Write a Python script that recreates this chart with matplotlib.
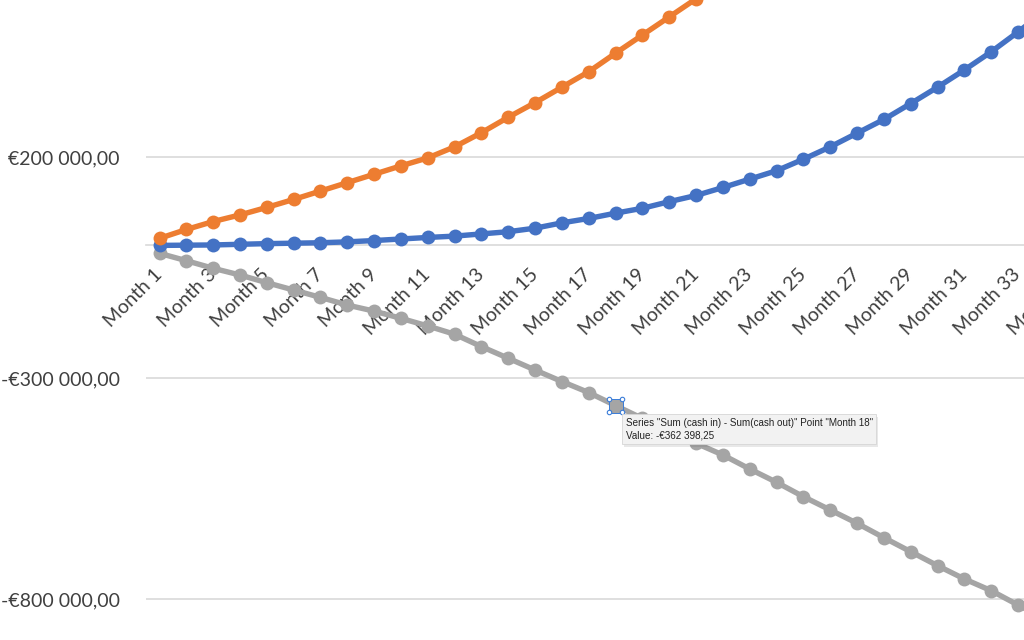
import matplotlib.pyplot as plt
import matplotlib.patheffects as pe
from matplotlib.transforms import offset_copy

# month labels on the category axis
months = [f"Month {i}" for i in range(1, 37)]

# values (EUR)
cash_out = [16000, 36000, 54000, 69000, 86000, 104000, 123000, 142000, 161000, 180000,
            198000, 223000, 255000, 290000, 323000, 358000, 393000, 435000, 476000, 517000,
            558000, 605000, 656000, 705000]
cash_in = [0, 500, 1000, 2500, 4000, 5000, 6000, 8000, 11000, 14500,
           18000, 21000, 26000, 31000, 39000, 51000, 61000, 73000, 84000, 99000,
           113000, 131000, 150000, 169000, 195000, 223000, 254000, 285000, 321000, 358000,
           397000, 438000, 483000, 530000]
net = [-17900, -34600, -51800, -67000, -84400, -101000, -117600, -135000, -148700, -165000,
       -182300, -201000, -229000, -255400, -282000, -308000, -333000, -362398.25, -391600, -420000,
       -447700, -474200, -505900, -536000, -568500, -598600, -628700, -661300, -693000, -724600,
       -754700, -781200, -813600, -845000]

y_ticks = [-800000, -300000, 200000]
selected = 18   # the point under the tooltip


def euro(v, decimals=2, sep=" "):
    s = f"{abs(v):,.{decimals}f}".replace(",", "#").replace(".", ",").replace("#", sep)
    return ("-" if v < 0 else "") + "€" + s


fig = plt.figure(figsize=(10.24, 6.4), dpi=100)
# the picture is a crop of a bigger chart, so the axes run past the figure edges
ax = fig.add_axes([0.14267, -0.28125, 0.94324, 1.72656])

ax.plot(range(1, len(net) + 1), net, color="#A5A5A5", lw=3.9,
        marker="o", ms=10, mew=0, zorder=3)
ax.plot(range(1, len(cash_in) + 1), cash_in, color="#4472C4", lw=3.9,
        marker="o", ms=10, mew=0, zorder=4)
ax.plot(range(1, len(cash_out) + 1), cash_out, color="#ED7D31", lw=3.9,
        marker="o", ms=10, mew=0, zorder=5)

# selected point: square with handles
sx, sy = selected, net[selected - 1]
ax.plot(sx, sy, marker="s", ms=9.6, mfc="#A5A5A5", mec="#3b7dd8", mew=0.7, zorder=6)
for dx in (-6.5, 6.5):
    for dy in (-6.5, 6.5):
        tr = offset_copy(ax.transData, fig=fig, x=dx, y=dy, units="dots")
        ax.plot(sx, sy, marker="o", ms=3.2, mfc="white", mec="#3b7dd8", mew=0.8,
                transform=tr, zorder=7)

tip = ax.annotate(f'Series "Sum (cash in) - Sum(cash out)" Point "{months[selected - 1]}"\n'
                  f'Value: {euro(sy)}',
                  xy=(sx, sy), xytext=(10, -12), textcoords="offset pixels",
                  ha="left", va="top", fontsize=7.1, family="Liberation Sans",
                  color="#222222", linespacing=1.35, zorder=8,
                  bbox=dict(boxstyle="square,pad=0.35", fc="#f2f2f2", ec="#d6d6d6", lw=0.6))
tip.get_bbox_patch().set_path_effects([pe.SimplePatchShadow(offset=(1, -2), alpha=0.12),
                                       pe.Normal()])

ax.set_xlim(0.5, len(months) + 0.5)
ax.set_ylim(-1300000, 1200000)

ax.set_xticks(range(1, len(months) + 1, 2))
ax.set_xticklabels(months[::2])
ax.set_yticks(y_ticks)
ax.set_yticklabels([euro(v) for v in y_ticks])

ax.spines[["left", "right", "top"]].set_visible(False)
ax.spines["bottom"].set_position(("data", 0))
ax.spines["bottom"].set_color("#d9d9d9")
ax.spines["bottom"].set_linewidth(1.2)
ax.grid(axis="y", color="#d9d9d9", lw=1.2)
ax.set_axisbelow(True)

ax.tick_params(axis="both", length=0, labelsize=14, labelcolor="#404040")
ax.tick_params(axis="y", pad=19)
ax.tick_params(axis="x", pad=19)
for lbl in ax.get_xticklabels() + ax.get_yticklabels():
    lbl.set_family("Lato")
for lbl in ax.get_xticklabels():
    lbl.set_rotation(45)
    lbl.set_ha("right")
    lbl.set_va("center")
    lbl.set_rotation_mode("anchor")

fig.savefig("out.png", dpi=100)
